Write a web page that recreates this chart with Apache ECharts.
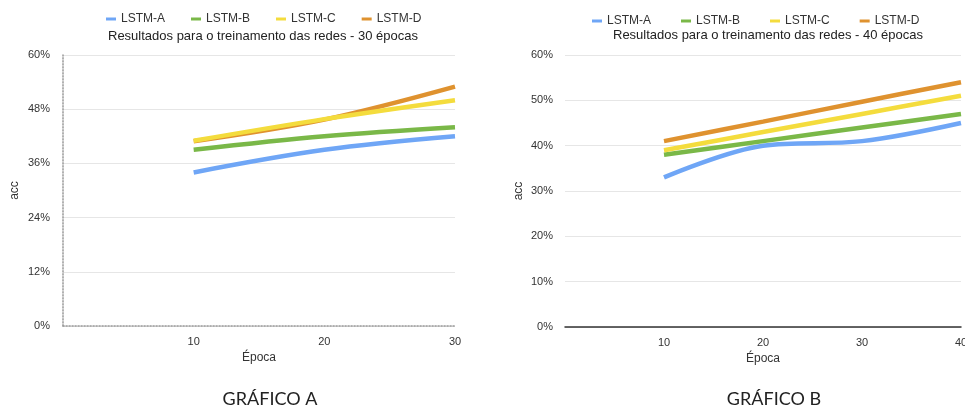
<!DOCTYPE html>
<html>
<head>
<meta charset="utf-8">
<script src="https://cdn.jsdelivr.net/npm/echarts@6/dist/echarts.min.js"></script>
<style>
  html, body { margin: 0; padding: 0; background: #fff; }
  #chart { width: 965px; height: 410px; }
</style>
</head>
<body>
<div id="chart"></div>
<script>
// Accuracy (%) per training run, per network variant
const seriesNames = ['LSTM-A', 'LSTM-B', 'LSTM-C', 'LSTM-D'];
const seriesColors = ['#6fa6f6', '#7ab848', '#f4dc3d', '#df922f'];

// Chart A: 30 epochs
const epochsA = [10, 20, 30];
const lstmA_30 = [34, 39, 42];
const lstmB_30 = [39, 42, 44];
const lstmC_30 = [41, 45.8, 50];
const lstmD_30 = [40.9, 45.7, 53];
const yTicksA = [0, 12, 24, 36, 48, 60];

// Chart B: 40 epochs
const epochsB = [10, 20, 30, 40];
const lstmA_40 = [33, 40, 41, 45];
const lstmB_40 = [38, 41, 44, 47];
const lstmC_40 = [39, 43, 47, 51];
const lstmD_40 = [41, 45.3, 49.7, 54];
const yTicksB = [0, 10, 20, 30, 40, 50, 60];

const titleA = 'Resultados para o treinamento das redes - 30 épocas';
const titleB = 'Resultados para o treinamento das redes - 40 épocas';
const captionA = 'GRÁFICO A';
const captionB = 'GRÁFICO B';

const font = 'Liberation Sans, Arial, sans-serif';
const pairs = (xs, ys) => xs.map((x, i) => [x, ys[i]]);

const valuesA = [lstmA_30, lstmB_30, lstmC_30, lstmD_30];
const valuesB = [lstmA_40, lstmB_40, lstmC_40, lstmD_40];

// stacking order of the four lines (yellow drawn over orange in the 30-epoch chart)
const zOrderA = [2, 3, 5, 4];
const zOrderB = [2, 3, 4, 5];

function lineSeries(values, xs, axisIdx, zOrder) {
  return values.map((v, i) => ({
    name: seriesNames[i],
    type: 'line',
    xAxisIndex: axisIdx,
    yAxisIndex: axisIdx,
    data: pairs(xs, v),
    smooth: 0.35,
    showSymbol: false,
    symbol: 'none',
    lineStyle: { width: 4.5, color: seriesColors[i], cap: 'butt' },
    itemStyle: { color: seriesColors[i] },
    z: zOrder[i]
  }));
}

const legendBase = {
  data: seriesNames,
  icon: 'rect',
  itemWidth: 10,
  itemHeight: 3,
  textStyle: { fontFamily: font, fontSize: 12, color: '#333' }
};

const dottedAxis = { color: '#999', type: [1.2, 1.8], width: 1.5 };

const chart = echarts.init(document.getElementById('chart'), null, { renderer: 'canvas' });

chart.setOption({
  animation: false,
  color: seriesColors,
  title: [
    { text: titleA, left: 258, top: 25, textAlign: 'center',
      textStyle: { fontFamily: font, fontSize: 13, fontWeight: 'normal', color: '#222' } },
    { text: titleB, left: 763, top: 24, textAlign: 'center',
      textStyle: { fontFamily: font, fontSize: 13, fontWeight: 'normal', color: '#222' } },
    { text: captionA, left: 265, top: 385, textAlign: 'center',
      textStyle: { fontFamily: 'Lato, DejaVu Sans, sans-serif', fontSize: 18, fontWeight: 'normal', color: '#222' } },
    { text: captionB, left: 769, top: 385, textAlign: 'center',
      textStyle: { fontFamily: 'Lato, DejaVu Sans, sans-serif', fontSize: 18, fontWeight: 'normal', color: '#222' } }
  ],
  legend: [
    Object.assign({}, legendBase, { left: 101, top: 8, itemGap: 26 }),
    Object.assign({}, legendBase, { left: 587, top: 10, itemGap: 30 })
  ],
  grid: [
    { left: 63, top: 55, right: 510, bottom: 84, outerBoundsMode: 'none' },
    { left: 565, top: 55, right: 4, bottom: 83, outerBoundsMode: 'none' }
  ],
  xAxis: [
    {
      gridIndex: 0, type: 'value', min: 0, max: 30, interval: 10,
      name: 'Época', nameLocation: 'middle', nameGap: 24,
      nameTextStyle: { fontFamily: font, fontSize: 12, color: '#333' },
      axisLine: { show: true, lineStyle: dottedAxis },
      axisTick: { show: false },
      splitLine: { show: false },
      axisLabel: { showMinLabel: false, fontFamily: font, fontSize: 11, color: '#333', margin: 10 }
    },
    {
      gridIndex: 1, type: 'value', min: 0, max: 40, interval: 10,
      name: 'Época', nameLocation: 'middle', nameGap: 24,
      nameTextStyle: { fontFamily: font, fontSize: 12, color: '#333' },
      axisLine: { show: true, lineStyle: { color: '#333', width: 1.5 } },
      axisTick: { show: false },
      splitLine: { show: false },
      axisLabel: { showMinLabel: false, fontFamily: font, fontSize: 11, color: '#333', margin: 10 }
    }
  ],
  yAxis: [
    {
      gridIndex: 0, type: 'value', min: yTicksA[0], max: yTicksA[yTicksA.length - 1], interval: yTicksA[1] - yTicksA[0],
      name: 'acc', nameLocation: 'middle', nameGap: 42,
      nameTextStyle: { fontFamily: font, fontSize: 12, color: '#333' },
      axisLine: { show: true, lineStyle: dottedAxis },
      axisTick: { show: false },
      splitLine: { show: true, lineStyle: { color: '#e6e6e6', width: 1 } },
      axisLabel: { formatter: '{value}%', fontFamily: font, fontSize: 11, color: '#333', margin: 13 }
    },
    {
      gridIndex: 1, type: 'value', min: yTicksB[0], max: yTicksB[yTicksB.length - 1], interval: yTicksB[1] - yTicksB[0],
      name: 'acc', nameLocation: 'middle', nameGap: 40,
      nameTextStyle: { fontFamily: font, fontSize: 12, color: '#333' },
      axisLine: { show: false },
      axisTick: { show: false },
      splitLine: { show: true, lineStyle: { color: '#e6e6e6', width: 1 } },
      axisLabel: { formatter: '{value}%', fontFamily: font, fontSize: 11, color: '#333', margin: 12 }
    }
  ],
  series: lineSeries(valuesA, epochsA, 0, zOrderA).concat(lineSeries(valuesB, epochsB, 1, zOrderB))
});
</script>
</body>
</html>
